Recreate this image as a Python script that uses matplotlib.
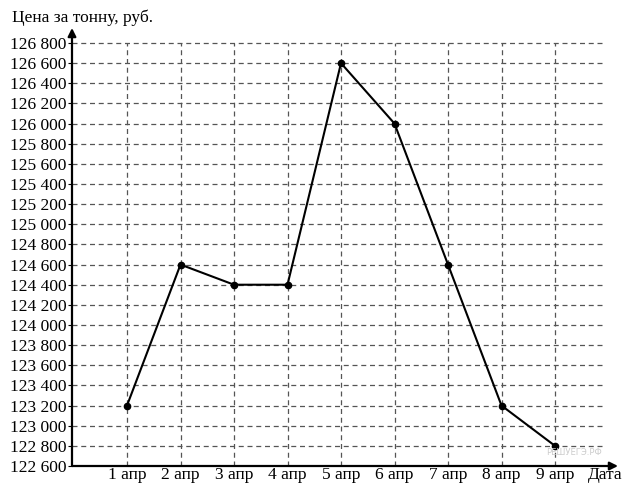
import matplotlib
matplotlib.use("Agg")
import matplotlib.pyplot as plt

dates = ["1 апр", "2 апр", "3 апр", "4 апр", "5 апр", "6 апр", "7 апр", "8 апр", "9 апр"]
prices = [123200, 124600, 124400, 124400, 126600, 126000, 124600, 123200, 122800]
y_ticks = list(range(122600, 126801, 200))
y_tick_labels = [f"{v // 1000} {v % 1000:03d}" for v in y_ticks]
y_title = "Цена за тонну, руб."
x_title = "Дата"

plt.rcParams['font.family'] = ['Liberation Serif', 'DejaVu Serif']

fig = plt.figure(figsize=(6.24, 4.86), dpi=100)
W, H = 624, 486
left, right, bottom, top = 72, 618, 466, 28
ax = fig.add_axes([left / W, 1 - bottom / H, (right - left) / W, (bottom - top) / H])

xs = list(range(1, len(dates) + 1))
px_per_x = 53.5
x0 = 1 - (127 - left) / px_per_x
x1 = 1 + (right - 127) / px_per_x
ax.set_xlim(x0, x1)
px_per_200 = (466 - 43) / 21
ax.set_ylim(122600, 122600 + (bottom - top) / px_per_200 * 200)

grid_right = 1 + (605 - 127) / px_per_x
gcol = "#555555"
for v in y_ticks[1:]:
    ax.plot([x0, grid_right], [v, v], color=gcol, lw=0.9, ls=(0, (4, 3)), zorder=1)
for x in xs:
    ax.plot([x, x], [y_ticks[0], y_ticks[-1]], color=gcol, lw=0.9, ls=(0, (4, 3)), zorder=1)

ax.plot(xs, prices, color="black", lw=1.5, marker="o", ms=4.5, zorder=3)

for s in ["top", "right", "left", "bottom"]:
    ax.spines[s].set_visible(False)

# axes with arrows
ax.annotate("", xy=(x1, 122600), xytext=(x0, 122600),
            arrowprops=dict(arrowstyle="-|>", color="black", lw=1.6, mutation_scale=12,
                            shrinkA=0, shrinkB=0), annotation_clip=False)
ax.annotate("", xy=(x0, ax.get_ylim()[1]), xytext=(x0, 122600),
            arrowprops=dict(arrowstyle="-|>", color="black", lw=1.6, mutation_scale=12,
                            shrinkA=0, shrinkB=0), annotation_clip=False)

ax.set_yticks(y_ticks)
ax.set_yticklabels(y_tick_labels, fontsize=12.5)
ax.tick_params(axis="y", length=3, width=0.8, pad=1, color="black")
ax.set_xticks(xs)
ax.set_xticklabels(dates, fontsize=12.5)
ax.tick_params(axis="x", length=0, pad=1)

fig.text(12 / W, 1 - 18 / H, y_title, fontsize=12.5, ha="left", va="center")
fig.text(622 / W, 1 - 475 / H, x_title, fontsize=12.5, ha="right", va="center")
fig.text(546 / W, 1 - 452 / H, "РЕШУЕГЭ.РФ", fontsize=6, color="#cccccc",
         ha="left", va="center", family=["DejaVu Sans"])

fig.savefig("out.png", dpi=100)
